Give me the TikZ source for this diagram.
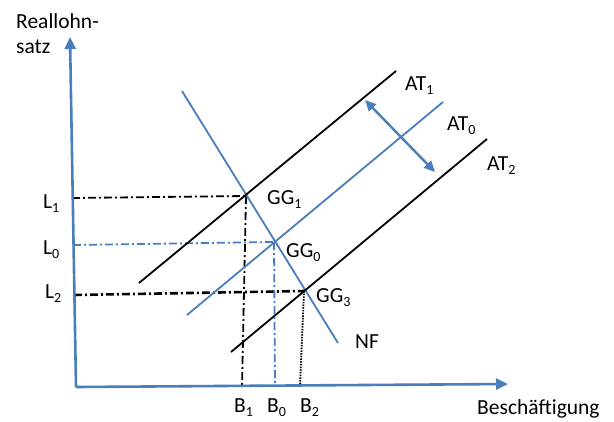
\documentclass[tikz,border=0pt]{standalone}
\usepackage{fontspec}
\setmainfont{Carlito}
\usetikzlibrary{arrows.meta}
\definecolor{ob}{RGB}{74,126,187}
\newcommand{\lsub}[1]{\raisebox{-0.45ex}{\fontsize{14}{14}\selectfont #1}}
\begin{document}
\begin{tikzpicture}[x=1pt,y=-1pt,
  lbl/.style={font=\fontsize{21.5}{24}\selectfont, inner sep=0pt, anchor=base west},
  axisline/.style={ob, line width=2.6pt, -{Triangle[length=12pt,width=11pt]}},
  curve/.style={line width=1.8pt},
  dashdot/.style={line width=1.8pt, dash pattern=on 8pt off 3pt on 2pt off 3pt},
  dotline/.style={line width=1.8pt, dash pattern=on 1.5pt off 1.2pt},
  shiftarrow/.style={ob, line width=2.4pt, {Triangle[length=11pt,width=10pt]}-{Triangle[length=11pt,width=10pt]}}
]
\useasboundingbox (0,0) rectangle (614,421);
% coordinates
\coordinate (O) at (76,387);
\coordinate (Ytop) at (70,37);
\coordinate (Xend) at (508,384);
\coordinate (GG1) at (246,196);
\coordinate (GG0) at (274,242);
\coordinate (GG3) at (304,291);
\coordinate (yL1) at (72,198);
\coordinate (yL0) at (73,245);
\coordinate (yL2) at (74,295);
\coordinate (xB1) at (242,387);
\coordinate (xB0) at (275,387);
\coordinate (xB2) at (300,387);
\coordinate (NFa) at (182,91);
\coordinate (NFb) at (338,343);
\coordinate (AT1a) at (139,283);
\coordinate (AT1b) at (396,71);
\coordinate (AT0a) at (187,315);
\coordinate (AT0b) at (443,102);
\coordinate (AT2a) at (231,352);
\coordinate (AT2b) at (487,139);
\coordinate (SHa) at (365,100);
\coordinate (SHb) at (435,172);
% guide lines
\draw[dashdot] (yL1) -- (GG1);
\draw[dashdot, ob] (yL0) -- (GG0);
\draw[dashdot, line width=2.6pt] (yL2) -- (GG3);
\draw[dashdot] (GG1) -- (xB1);
\draw[dashdot, ob] (GG0) -- (xB0);
\draw[dotline] (GG3) -- (xB2);
% curves
\draw[curve, ob] (NFa) -- (NFb);
\draw[curve] (AT1a) -- (AT1b);
\draw[curve, ob] (AT0a) -- (AT0b);
\draw[curve] (AT2a) -- (AT2b);
\draw[shiftarrow] (SHa) -- (SHb);
% axes
\draw[axisline] (O) -- (Ytop);
\draw[axisline] (O) -- (Xend);
% labels
\node[lbl] (ylab1) at (16,28) {Reallohn-};
\node[lbl] (ylab2) at (16,53) {satz};
\node[lbl] (xlab) at (477,414) {Beschäftigung};
\node[lbl] (L1) at (43,208) {L\lsub{1}};
\node[lbl] (L0) at (43,254) {L\lsub{0}};
\node[lbl] (L2) at (45,298) {L\lsub{2}};
\node[lbl] (B1) at (234,412) {B\lsub{1}};
\node[lbl] (B0) at (267,412) {B\lsub{0}};
\node[lbl] (B2) at (300,412) {B\lsub{2}};
\node[lbl] (gg1) at (267,204) {GG\lsub{1}};
\node[lbl] (gg0) at (286,257) {GG\lsub{0}};
\node[lbl] (gg3) at (316,302) {GG\lsub{3}};
\node[lbl] (nf) at (355,348) {NF};
\node[lbl] (at1) at (405,90) {AT\lsub{1}};
\node[lbl] (at0) at (447,130) {AT\lsub{0}};
\node[lbl] (at2) at (487,170) {AT\lsub{2}};
\end{tikzpicture}
\end{document}
